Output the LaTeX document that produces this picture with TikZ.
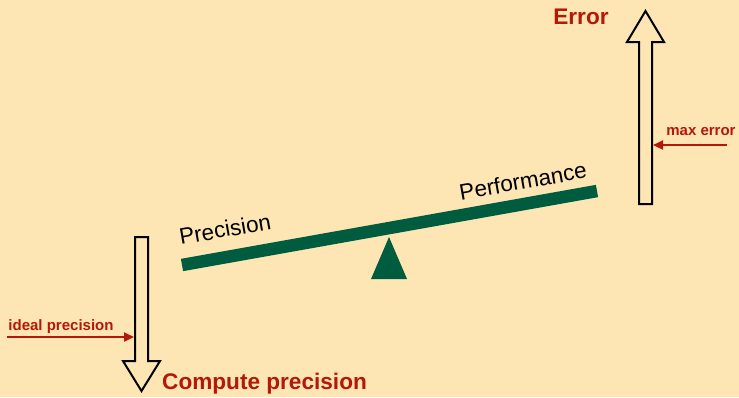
\documentclass[tikz,border=0pt]{standalone}
\usepackage{fontspec}
\setmainfont{Liberation Sans}
\usetikzlibrary{arrows.meta}
\definecolor{paper}{RGB}{253,230,180}
\definecolor{beamgreen}{RGB}{0,92,62}
\definecolor{labelred}{RGB}{180,24,8}
\tikzset{
  hollowarrow/.style={draw=black, line width=2pt, fill=paper, line join=miter},
  axislabel/.style={text=labelred, font=\fontsize{22.6}{26}\selectfont\bfseries, inner sep=0pt},
  marklabel/.style={text=labelred, font=\fontsize{15}{17}\selectfont\bfseries, inner sep=0pt},
  marker/.style={draw=labelred, line width=2.3pt, -{Triangle[length=10pt,width=9pt]}},
  beamlabel/.style={font=\fontsize{22.5}{26}\selectfont, inner sep=0pt, rotate=10}
}
\begin{document}
\begin{tikzpicture}[x=1pt,y=-1pt]
  % page
  \fill[paper] (0,0) rectangle (739,397);
  \useasboundingbox (0,0) rectangle (739,397);

  % seesaw beam and fulcrum
  \draw[beamgreen, line width=12.5pt] (182,265) -- (597,191);
  \fill[beamgreen] (371,279) -- (407,279) -- (389,237) -- cycle;
  \node[beamlabel] (prec) at (225,229) {Precision};
  \node[beamlabel] (perf) at (523,181) {Performance};

  % error axis (pointing up)
  \draw[hollowarrow] (639,204) -- (639,42) -- (627,42) -- (645.5,11) -- (664,42) -- (652,42) -- (652,204) -- cycle;
  \node[axislabel] (err) at (581,17) {Error};
  \coordinate (errshaft) at (653,145);
  \coordinate (maxsrc) at (727,145);
  \node[marklabel] (maxlbl) at (701,132) {max error};
  \draw[marker] (maxsrc) -- (errshaft);

  % compute precision axis (pointing down)
  \draw[hollowarrow] (135,237) -- (135,361) -- (123,361) -- (141.5,391) -- (160,361) -- (148,361) -- (148,237) -- cycle;
  \node[axislabel, anchor=west] (cp) at (162,384) {Compute precision};
  \coordinate (cpshaft) at (134,337);
  \coordinate (idealsrc) at (7,337);
  \node[marklabel] (ideallbl) at (61,327) {ideal precision};
  \draw[marker] (idealsrc) -- (cpshaft);
\end{tikzpicture}
\end{document}
